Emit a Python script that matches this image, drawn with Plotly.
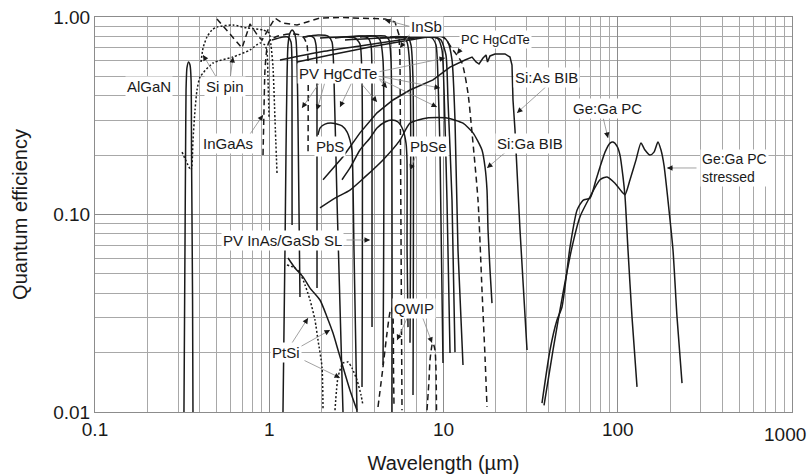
import math
import plotly.graph_objects as go

# ---------------- detector spectra: wavelength (um) / quantum efficiency ----------------
algan_wl = [0.324, 0.331, 0.333, 0.335, 0.337, 0.344, 0.351, 0.356, 0.358, 0.363, 0.365]
algan_qe = [0.010, 0.212, 0.427, 0.508, 0.552, 0.592, 0.571, 0.480, 0.212, 0.0369, 0.010]

si_pin_a_wl = [0.406, 0.417, 0.439, 0.469, 0.501, 0.619, 0.745, 0.921, 0.997, 1.023, 1.051, 1.079, 1.108]
si_pin_a_qe = [0.592, 0.697, 0.792, 0.859, 0.890, 0.911, 0.880, 0.859, 0.830, 0.721, 0.558, 0.301, 0.162]
si_pin_b_wl = [0.316, 0.356, 0.365, 0.375, 0.385, 0.401, 0.476, 0.619, 0.775, 0.885, 0.945, 0.971, 0.984, 0.997]
si_pin_b_qe = [0.207, 0.168, 0.238, 0.338, 0.427, 0.497, 0.585, 0.627, 0.681, 0.739, 0.721, 0.665, 0.480, 0.312]

ingaas_wl = [0.921, 0.933, 0.945, 0.971, 1.010, 1.123, 1.315, 1.501, 1.583, 1.647, 1.669, 1.670]
ingaas_qe = [0.200, 0.338, 0.539, 0.697, 0.765, 0.801, 0.820, 0.811, 0.783, 0.721, 0.606, 0.205]

insb_wl = [0.501, 0.698, 0.775, 0.862, 0.909, 1.079, 1.184, 1.443, 1.714, 1.955, 2.547, 4.616,
           5.268, 5.555, 5.629, 5.704, 5.779]
insb_qe = [0.977, 0.697, 0.922, 0.801, 0.765, 0.988, 0.932, 0.911, 0.954, 0.988, 0.994, 0.977,
           0.943, 0.811, 0.606, 0.118, 0.0102]

pbs_wl = [1.905, 1.955, 2.089, 2.322, 2.615, 2.794, 2.906, 2.984, 3.064, 3.188]
pbs_qe = [0.253, 0.274, 0.287, 0.290, 0.281, 0.262, 0.238, 0.212, 0.0661, 0.010]

pbse_wl = [2.615, 2.906, 3.316, 3.787, 4.153, 4.616, 5.063, 5.483, 5.856, 6.093, 6.173, 6.18, 6.256]
pbse_qe = [0.150, 0.172, 0.212, 0.244, 0.274, 0.294, 0.301, 0.294, 0.268, 0.230, 0.189, 0.0661, 0.0269]

si_ga_wl = [1.955, 2.384, 2.906, 3.544, 4.496, 5.629, 6.423, 8.041, 10.47, 12.94, 14.77, 16.63,
            17.31, 17.77, 18.01, 18.49, 18.98]
si_ga_qe = [0.108, 0.121, 0.133, 0.155, 0.189, 0.238, 0.290, 0.308, 0.308, 0.290, 0.259, 0.212,
            0.174, 0.133, 0.0835, 0.0524, 0.0356]

si_as_wl = [2.035, 2.650, 3.316, 4.153, 5.131, 6.423, 8.705, 10.90, 13.29, 14.58, 15.37, 15.99,
            16.86, 17.54, 17.89, 18.49, 19.75, 22.54, 24.08, 24.72, 25.05, 25.72, 27.48, 30.15]
si_as_qe = [0.150, 0.196, 0.259, 0.327, 0.380, 0.427, 0.480, 0.558, 0.606, 0.627, 0.592, 0.578,
            0.620, 0.642, 0.592, 0.635, 0.650, 0.650, 0.627, 0.571, 0.380, 0.268, 0.0835, 0.0206]

gega_wl = [36.75, 40.86, 44.81, 47.87, 53.21, 58.37, 63.19, 69.31, 75.04, 79.10, 84.53, 90.29,
           93.91, 99.01, 103.0, 107.2, 110.1, 114.5, 120.7, 129.0]
gega_qe = [0.0111, 0.0206, 0.0292, 0.0340, 0.0684, 0.105, 0.118, 0.121, 0.150, 0.174, 0.207, 0.230,
           0.233, 0.222, 0.200, 0.155, 0.123, 0.0661, 0.0303, 0.0134]

gega_st_wl = [37.74, 42.51, 48.51, 54.64, 60.73, 69.31, 79.10, 86.79, 96.42, 105.8, 110.1, 117.6,
              127.3, 135.9, 143.3, 153.1, 161.4, 170.2, 177.1, 184.2, 194.2, 207.5, 218.8, 233.8]
gega_st_qe = [0.0108, 0.0206, 0.0400, 0.0684, 0.0975, 0.123, 0.150, 0.155, 0.144, 0.130, 0.126, 0.150,
              0.189, 0.230, 0.212, 0.200, 0.207, 0.233, 0.212, 0.178, 0.118, 0.0661, 0.0303, 0.0140]

ptsi_wl = [1.281, 1.405, 1.562, 1.714, 1.955, 2.145, 2.322, 2.481, 2.650, 2.906, 3.188]
ptsi_qe = [0.0602, 0.0536, 0.0483, 0.0424, 0.0369, 0.0303, 0.0251, 0.0206, 0.0169, 0.0129, 0.0102]
ptsi_b_wl = [1.264, 1.405, 1.501, 1.604, 1.714, 1.830, 1.905, 2.008, 2.035]
ptsi_b_qe = [0.0555, 0.0536, 0.0506, 0.0440, 0.0369, 0.0292, 0.0231, 0.0169, 0.0102]
ptsi_c_wl = [2.384, 2.481, 2.650, 2.831, 2.984, 3.188, 3.361, 3.451]
ptsi_c_qe = [0.0102, 0.0150, 0.0177, 0.0179, 0.0167, 0.0145, 0.0122, 0.0108]

qwip_a_wl = [4.208, 4.496, 4.740, 4.931, 5.030, 5.131, 5.165, 5.199]
qwip_a_qe = [0.0106, 0.0169, 0.0251, 0.0321, 0.0336, 0.0303, 0.0169, 0.0106]
qwip_b_wl = [8.041, 8.256, 8.366, 8.590, 8.705, 8.939, 9.058, 9.118]
qwip_b_qe = [0.0102, 0.0145, 0.0183, 0.0218, 0.0224, 0.0206, 0.0163, 0.0102]

pc_hgcdte_wl = [6.423, 8.366, 9.934, 11.34, 12.77, 13.82, 14.58, 15.78, 16.63, 17.31, 17.77]
pc_hgcdte_qe = [0.792, 0.801, 0.792, 0.681, 0.585, 0.412, 0.259, 0.118, 0.0415, 0.0190, 0.0106]

# photovoltaic HgCdTe family (one list per cut-off wavelength)
pv_hgcdte_wl = [
    [1.037, 1.199, 1.281, 1.333, 1.351, 1.352],
    [1.199, 1.231, 1.248, 1.264, 1.281, 1.315, 1.351, 1.387, 1.424, 1.443, 1.462, 1.501],
    [1.604, 1.714, 1.806, 1.855, 1.879, 1.880],
    [1.562, 1.905, 2.174, 2.292, 2.353, 2.448, 2.650],
    [1.955, 2.721, 3.105, 3.316, 3.406, 3.407],
    [2.384, 3.316, 3.688, 3.837, 3.888, 3.889],
    [2.906, 4.045, 4.321, 4.496, 4.497],
    [3.316, 4.616, 4.867, 4.997, 5.063],
    [4.931, 5.856, 6.173, 6.423, 6.424],
    [5.268, 6.256, 6.509, 6.683, 6.684],
    [1.152, 1.955, 3.316, 5.629, 7.831, 8.590, 9.058, 9.300, 9.548, 9.934],
    [1.443, 2.232, 3.787, 6.423, 8.366, 9.300, 9.804, 10.07, 10.47, 10.90],
    [2.721, 4.321, 7.331, 8.939, 9.676, 10.33, 10.61, 11.19, 11.64],
    [4.321, 8.366, 9.934, 10.61, 11.19, 11.64, 12.11, 12.94],
]
pv_hgcdte_qe = [
    [0.765, 0.792, 0.792, 0.747, 0.539, 0.0885],
    [0.010, 0.0661, 0.212, 0.480, 0.721, 0.830, 0.859, 0.839, 0.765, 0.606, 0.301, 0.0382],
    [0.792, 0.801, 0.783, 0.721, 0.539, 0.0424],
    [0.792, 0.811, 0.801, 0.747, 0.480, 0.118, 0.010],
    [0.783, 0.792, 0.783, 0.730, 0.480, 0.0134],
    [0.783, 0.801, 0.783, 0.721, 0.480, 0.0269],
    [0.792, 0.801, 0.765, 0.606, 0.0173],
    [0.792, 0.801, 0.765, 0.606, 0.010],
    [0.792, 0.792, 0.747, 0.539, 0.0224],
    [0.783, 0.783, 0.721, 0.480, 0.0122],
    [0.606, 0.665, 0.713, 0.765, 0.792, 0.783, 0.721, 0.480, 0.212, 0.0177],
    [0.592, 0.642, 0.705, 0.765, 0.792, 0.774, 0.681, 0.427, 0.118, 0.0199],
    [0.765, 0.783, 0.792, 0.792, 0.765, 0.642, 0.380, 0.118, 0.0201],
    [0.783, 0.801, 0.792, 0.747, 0.606, 0.301, 0.0661, 0.0173],
]

x_ticks = [0.1, 1, 10, 100, 1000]
x_tick_text = ["0.1", "1", "10", "100", "1000"]
y_ticks = [0.01, 0.1, 1]
y_tick_text = ["0.01", "0.10", "1.00"]

INK = "#1a1a1a"
FONT = "Arial, Liberation Sans, sans-serif"
fig = go.Figure()


def curve(wl, qe, dash="solid", smooth=True):
    fig.add_trace(go.Scatter(
        x=wl, y=qe, mode="lines", hoverinfo="skip", showlegend=False,
        line=dict(color=INK, width=1.5, dash=dash,
                  shape="spline" if smooth else "linear", smoothing=0.6)))


curve(algan_wl, algan_qe)
curve(si_pin_a_wl, si_pin_a_qe, "2px,2px")
curve(si_pin_b_wl, si_pin_b_qe, "2px,2px")
curve(ingaas_wl, ingaas_qe, "6px,4px")
curve(insb_wl, insb_qe, "6px,4px", smooth=False)
for wl, qe in zip(pv_hgcdte_wl, pv_hgcdte_qe):
    curve(wl, qe)
curve(pbs_wl, pbs_qe)
curve(pbse_wl, pbse_qe)
curve(si_ga_wl, si_ga_qe)
curve(si_as_wl, si_as_qe, smooth=False)
curve(pc_hgcdte_wl, pc_hgcdte_qe, "6px,4px")
curve(ptsi_wl, ptsi_qe)
curve(ptsi_b_wl, ptsi_b_qe, "2px,2px")
curve(ptsi_c_wl, ptsi_c_qe, "2px,2px")
curve(qwip_a_wl, qwip_a_qe, "6px,4px")
curve(qwip_b_wl, qwip_b_qe, "6px,4px")
curve(gega_wl, gega_qe)
curve(gega_st_wl, gega_st_qe)

# ---------------- labels ----------------
labels = [
    ("AlGaN", 0.0775, 0.8228, 15),
    ("Si pin", 0.1865, 0.8228, 15),
    ("InGaAs", 0.1908, 0.6785, 15),
    ("PV HgCdTe", 0.3486, 0.8557, 15),
    ("InSb", 0.4763, 0.9747, 15),
    ("PC HgCdTe", 0.5753, 0.9418, 13),
    ("Si:As BIB", 0.6471, 0.8456, 15),
    ("Si:Ga BIB", 0.6241, 0.6810, 15),
    ("PbS", 0.3372, 0.6734, 15),
    ("PbSe", 0.4778, 0.6734, 15),
    ("Ge:Ga PC", 0.7346, 0.7671, 15),
    ("PV InAs/GaSb SL", 0.2697, 0.4354, 15),
    ("PtSi", 0.2740, 0.1494, 15),
    ("QWIP", 0.4577, 0.2608, 15),
]

# arrows: head at (wavelength, QE), tail offset in pixels
arrows = [
    (0.4167, 0.642, 15, 25), (0.619, 0.627, -3, 23),                 # Si pin
    (0.921, 0.319, -15, 22),                                          # InGaAs
    (1.541, 0.346, 18, -26), (1.879, 0.338, 8, -28), (2.547, 0.350, 12, -25),
    (4.153, 0.371, -17, -20), (4.740, 0.437, -9, -10),
    (9.178, 0.350, -59, -29), (9.548, 0.437, -62, -12),
    (10.20, 0.620, -67, 14),                                          # PV HgCdTe
    (4.616, 0.966, 27, 7), (5.629, 0.697, 13, -18),                   # InSb
    (11.96, 0.650, 8, -10),                                           # PC HgCdTe
    (26.41, 0.327, 30, -27),                                          # Si:As
    (17.77, 0.172, 20, -17),                                          # Si:Ga
    (6.423, 0.168, 7, -17),                                           # PbSe
    (87.90, 0.244, -5, -21),                                          # Ge:Ga PC
    (191.7, 0.172, 31, 0),                                            # stressed
    (3.787, 0.0743, -25, 0),                                          # InAs/GaSb
    (1.669, 0.0299, -18, 28), (2.232, 0.0260, -32, 18), (2.547, 0.0149, -37, -18),  # PtSi
    (5.411, 0.0231, 11, -24), (8.590, 0.0224, -10, -27),             # QWIP
]

ann = []
for hx, hy, dx, dy in arrows:
    L = math.hypot(dx, dy)
    ann.append(dict(x=math.log10(hx), y=math.log10(hy), xref="x", yref="y",
                    ax=dx, ay=dy, axref="pixel", ayref="pixel", text="",
                    showarrow=True, arrowhead=0, arrowwidth=0.8, arrowcolor="#8a8a8a"))
    ann.append(dict(x=math.log10(hx), y=math.log10(hy), xref="x", yref="y",
                    ax=dx * 7 / L, ay=dy * 7 / L, text="", showarrow=True,
                    arrowhead=2, arrowsize=1.1, arrowwidth=1, arrowcolor=INK))

for txt, px, py, size in labels:
    ann.append(dict(x=px, y=py, xref="paper", yref="paper", text=txt, showarrow=False,
                    font=dict(family=FONT, size=size, color=INK), bgcolor="white",
                    borderpad=1, xanchor="center", yanchor="middle"))
ann.append(dict(x=0.868, y=0.6177, xref="paper", yref="paper", text="Ge:Ga PC<br>stressed",
                showarrow=False, align="left", xanchor="left", yanchor="middle",
                font=dict(family=FONT, size=14, color=INK), bgcolor="white", borderpad=1))
# last decade label sits against the right edge of the frame
ann.append(dict(x=1.0, y=0, xref="paper", yref="paper", text=x_tick_text[-1], showarrow=False,
                xanchor="center", yanchor="top", xshift=-7, yshift=-10,
                font=dict(family=FONT, size=19, color=INK)))

x_minor = [m * 10 ** e for e in (-1, 0, 1, 2) for m in range(2, 10)]
y_minor = [m * 10 ** e for e in (-2, -1) for m in range(2, 10)]

fig.update_layout(
    width=811, height=476, margin=dict(l=95, r=19, t=17, b=64, autoexpand=False),
    plot_bgcolor="white", paper_bgcolor="white",
    font=dict(family=FONT, color=INK), annotations=ann,
)
fig.update_xaxes(
    type="log", range=[-1, 3], tickvals=x_ticks[:-1], ticktext=x_tick_text[:-1],
    tickfont=dict(size=19), automargin=False,
    showgrid=True, gridcolor="#8c8c8c", gridwidth=1, zeroline=False,
    minor=dict(tickvals=x_minor + [x_ticks[-1]], showgrid=True, gridcolor="#a8a8a8", gridwidth=1),
    showline=True, linecolor="#8c8c8c", mirror=True, ticks="",
    title=dict(text="Wavelength (µm)", font=dict(size=20), standoff=17),
)
fig.update_yaxes(
    type="log", range=[-2, 0], tickvals=y_ticks, ticktext=y_tick_text, tickfont=dict(size=19),
    automargin=False,
    showgrid=True, gridcolor="#8c8c8c", gridwidth=1, zeroline=False,
    minor=dict(tickvals=y_minor, showgrid=True, gridcolor="#a8a8a8", gridwidth=1),
    showline=True, linecolor="#8c8c8c", mirror=True, ticks="",
    title=dict(text="Quantum efficiency", font=dict(size=20), standoff=20),
)

fig.write_html("out.html")
